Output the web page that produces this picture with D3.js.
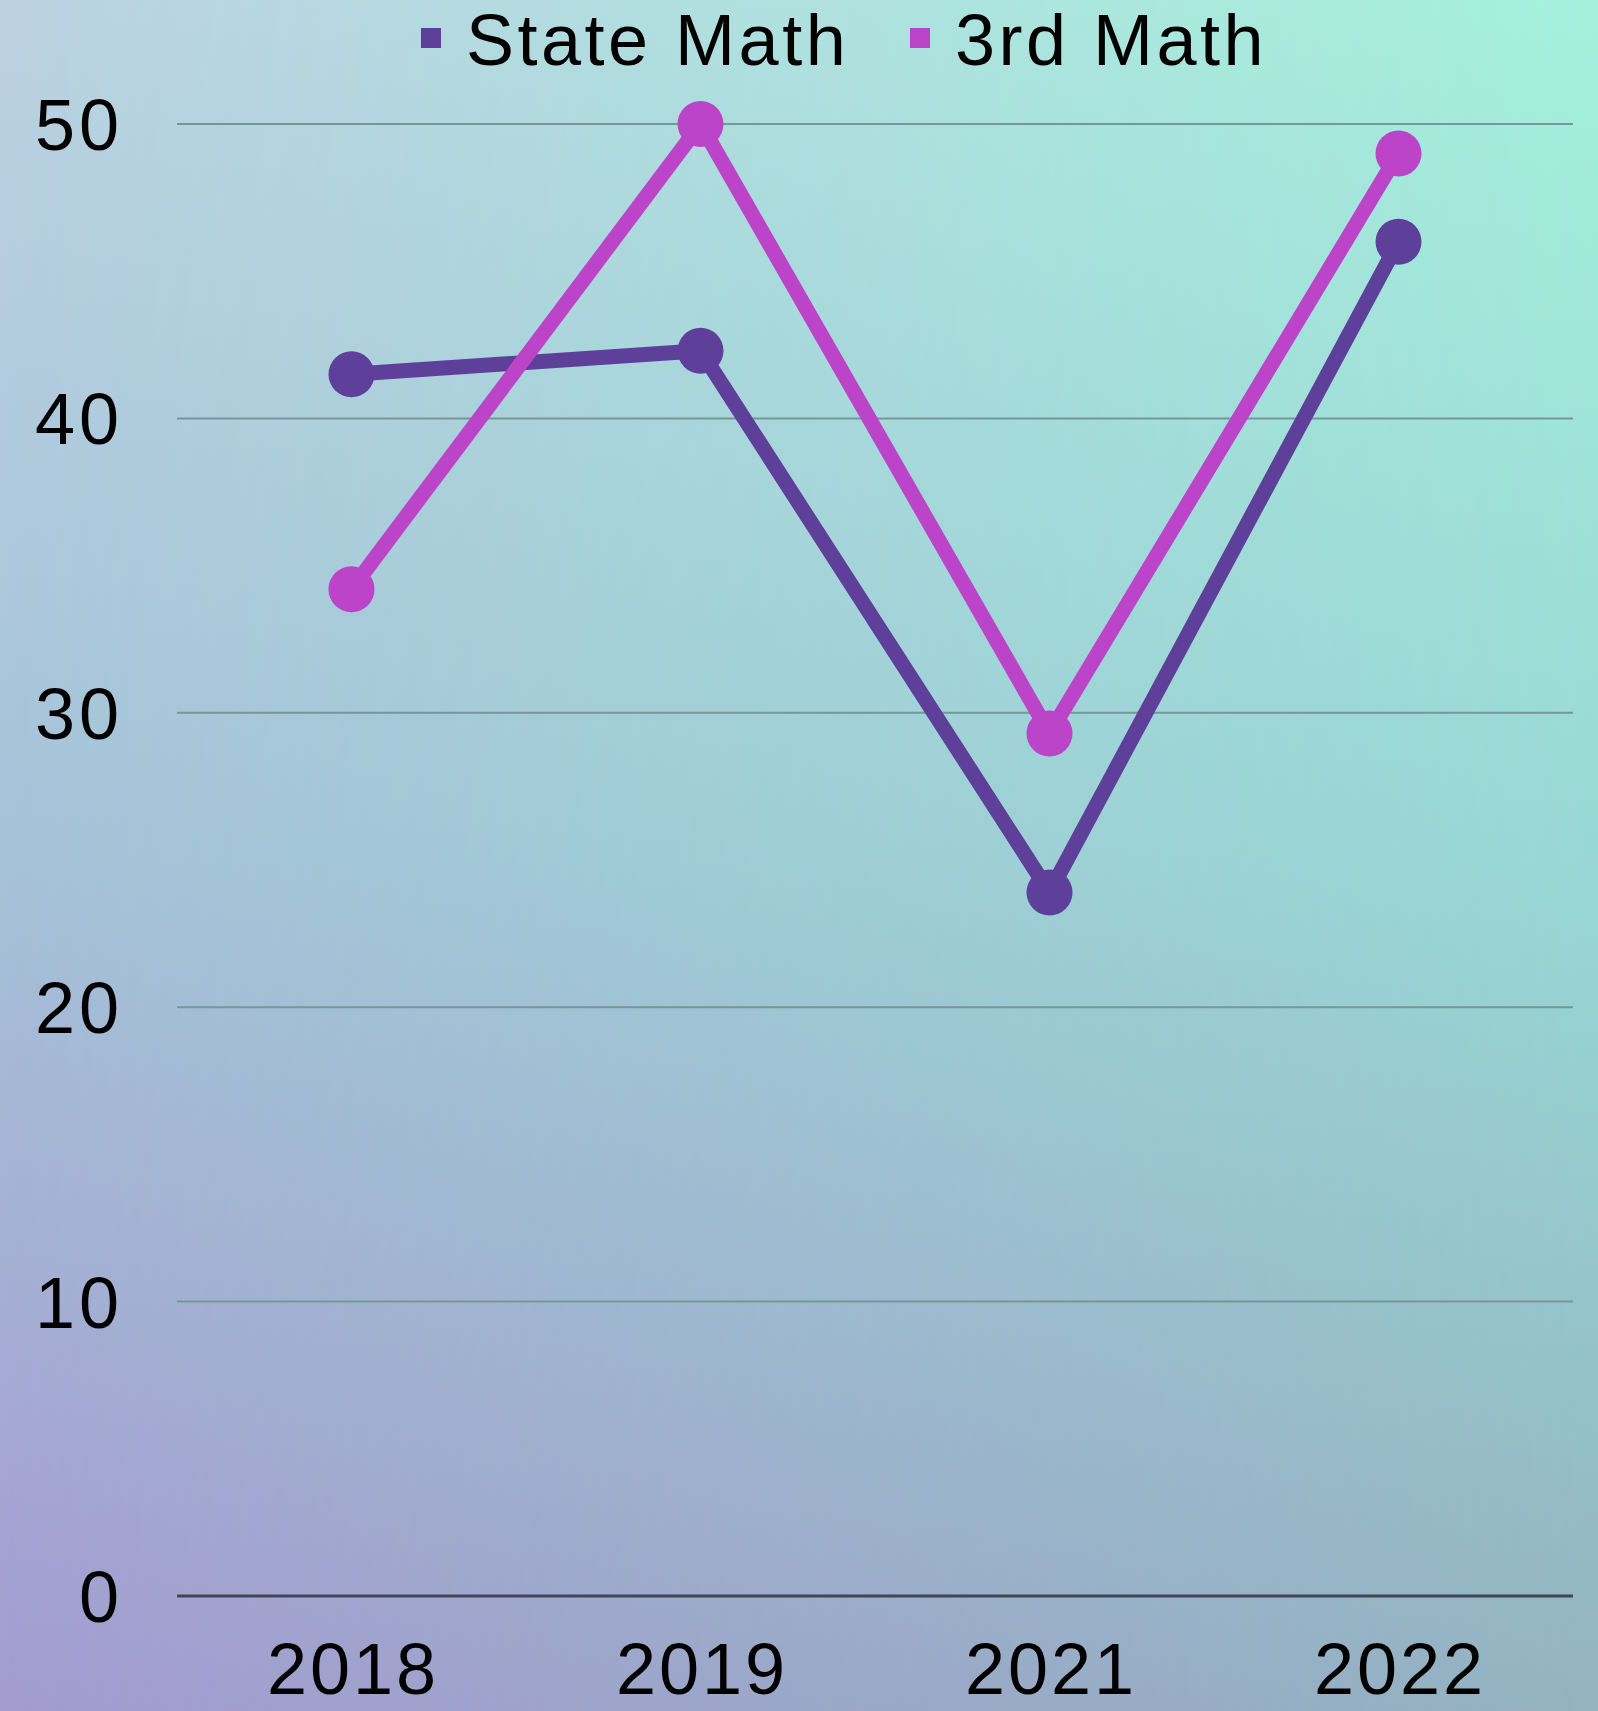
<!DOCTYPE html>
<html>
<head>
<meta charset="utf-8">
<script src="https://cdn.jsdelivr.net/npm/d3@7"></script>
<style>
  html, body { margin: 0; padding: 0; }
  svg { display: block; }
  text { font-family: 'Liberation Sans', Arial, sans-serif; fill: #000; }
</style>
</head>
<body>
<svg id="canvas"></svg>
<script>
const years = ['2018', '2019', '2021', '2022'];
const stateMath = [41.5, 42.3, 23.9, 46.0];
const thirdMath = [34.2, 50.0, 29.3, 49.0];
const yTicks = [0, 10, 20, 30, 40, 50];
const seriesNames = ['State Math', '3rd Math'];
const seriesColors = ['#5e3f9a', '#bb44c8'];

const width = 1598;
const height = 1711;
const margin = { top: 124, right: 25, bottom: 115, left: 177 };

const canvas = d3.select('#canvas').attr('width', width).attr('height', height);

// background: bilinear blend of the four corner colours
const defs = canvas.append('defs');
const leftGrad = defs.append('linearGradient').attr('id', 'leftGrad')
  .attr('x1', 0).attr('y1', 0).attr('x2', 0).attr('y2', 1);
leftGrad.append('stop').attr('offset', '0%').attr('stop-color', '#bcd2e2');
leftGrad.append('stop').attr('offset', '50%').attr('stop-color', '#a6c2d8');
leftGrad.append('stop').attr('offset', '100%').attr('stop-color', '#a49bd1');
const rightGrad = defs.append('linearGradient').attr('id', 'rightGrad')
  .attr('x1', 0).attr('y1', 0).attr('x2', 0).attr('y2', 1);
rightGrad.append('stop').attr('offset', '0%').attr('stop-color', '#a4f0dc');
rightGrad.append('stop').attr('offset', '50%').attr('stop-color', '#98d8d4');
rightGrad.append('stop').attr('offset', '100%').attr('stop-color', '#93b3c0');
const maskGrad = defs.append('linearGradient').attr('id', 'maskGrad')
  .attr('x1', 0).attr('y1', 0).attr('x2', 1).attr('y2', 0);
maskGrad.append('stop').attr('offset', '0%').attr('stop-color', '#000');
maskGrad.append('stop').attr('offset', '100%').attr('stop-color', '#fff');
defs.append('mask').attr('id', 'fade')
  .append('rect').attr('width', width).attr('height', height).attr('fill', 'url(#maskGrad)');

canvas.append('rect').attr('width', width).attr('height', height).attr('fill', 'url(#leftGrad)');
canvas.append('rect').attr('width', width).attr('height', height)
  .attr('fill', 'url(#rightGrad)').attr('mask', 'url(#fade)');

const x = d3.scalePoint()
  .domain(years)
  .range([margin.left, width - margin.right])
  .padding(0.5);

const y = d3.scaleLinear()
  .domain([0, 50])
  .range([height - margin.bottom, margin.top]);

// gridlines
canvas.append('g')
  .selectAll('line')
  .data(yTicks)
  .enter()
  .append('line')
  .attr('x1', margin.left)
  .attr('x2', width - margin.right)
  .attr('y1', (d) => y(d))
  .attr('y2', (d) => y(d))
  .attr('stroke', (d) => (d === 0 ? '#3f4656' : '#76979a'))
  .attr('stroke-width', (d) => (d === 0 ? 3 : 2));

// y labels
canvas.append('g')
  .selectAll('text')
  .data(yTicks)
  .enter()
  .append('text')
  .attr('x', 123)
  .attr('y', (d) => y(d) + 26)
  .attr('text-anchor', 'end')
  .attr('font-size', 72)
  .attr('letter-spacing', 4)
  .text((d) => d);

// x labels
canvas.append('g')
  .selectAll('text')
  .data(years)
  .enter()
  .append('text')
  .attr('x', (d) => x(d) + 1.5)
  .attr('y', 1694)
  .attr('text-anchor', 'middle')
  .attr('font-size', 72)
  .attr('letter-spacing', 3)
  .text((d) => d);

const series = [stateMath, thirdMath];
const line = d3.line()
  .x((d, i) => x(years[i]))
  .y((d) => y(d));

series.forEach((values, s) => {
  const g = canvas.append('g');
  g.append('path')
    .attr('d', line(values))
    .attr('fill', 'none')
    .attr('stroke', seriesColors[s])
    .attr('stroke-width', 15)
    .attr('stroke-linejoin', 'round');
  g.selectAll('circle')
    .data(values)
    .enter()
    .append('circle')
    .attr('cx', (d, i) => x(years[i]))
    .attr('cy', (d) => y(d))
    .attr('r', 23)
    .attr('fill', seriesColors[s]);
});

// legend
const legendX = [421, 910];
const legend = canvas.append('g')
  .selectAll('g')
  .data(seriesNames)
  .enter()
  .append('g')
  .attr('transform', (d, i) => 'translate(' + legendX[i] + ', 0)');

legend.append('rect')
  .attr('x', 0)
  .attr('y', 28)
  .attr('width', 20)
  .attr('height', 20)
  .attr('fill', (d, i) => seriesColors[i]);

legend.append('text')
  .attr('x', 45)
  .attr('y', 65)
  .attr('font-size', 72)
  .attr('letter-spacing', 3.5)
  .text((d) => d);
</script>
</body>
</html>
